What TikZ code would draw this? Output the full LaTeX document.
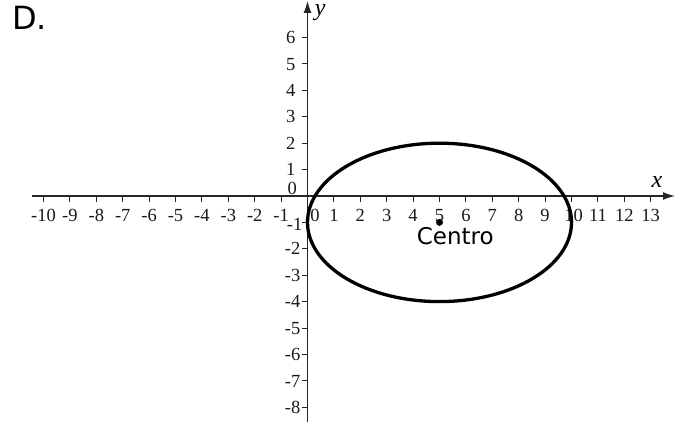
\documentclass[tikz,border=0pt]{standalone}
\usepackage{fontspec}
\setmainfont{Liberation Serif}
\newfontfamily\labelsans{DejaVu Sans}
\usetikzlibrary{arrows.meta}
\begin{document}
\begin{tikzpicture}[x=26.4pt,y=26.4pt,
  axisline/.style={line width=1.3pt, black!85},
  tickmark/.style={line width=1pt, black!85},
  ticklbl/.style={font=\fontsize{18.5}{18.5}\selectfont, inner sep=0pt, text=black!90},
  axlbl/.style={font=\fontsize{24}{24}\selectfont\itshape, inner sep=0pt},
  curve/.style={line width=3.3pt, black},
  tipstyle/.style={-{Latex[length=12pt,width=8pt]}}]
\useasboundingbox (-11.648,-8.788) rectangle (14.223,7.424);
% axes
\coordinate (xl) at (-10.45,0);
\coordinate (xr) at (13.92,0);
\coordinate (yb) at (0,-8.55);
\coordinate (yt) at (0,7.39);
\draw[axisline,tipstyle] (xl) -- (xr);
\draw[axisline,tipstyle] (yb) -- (yt);
% x ticks and labels
\foreach \i in {-10,...,-1,1,2,...,13}{
  \coordinate (xt\i) at (\i,0);
  \draw[tickmark] (xt\i) -- ++(0,-6pt);
}
\foreach \i in {-10,...,-1,1,2,...,9,11,12,13}{
  \node[ticklbl, anchor=base] (xn\i) at ([yshift=-25.7pt]xt\i) {\i};
}
\node[ticklbl, anchor=base] (xn10) at ([xshift=2pt,yshift=-25.7pt]xt10) {10};
\coordinate (o) at (0,0);
\node[ticklbl, anchor=base] (xn0) at ([xshift=7.5pt,yshift=-25.7pt]o) {0};
% y ticks and labels
\foreach \j in {-8,...,-1,1,2,...,6}{
  \coordinate (yk\j) at (0,\j);
  \draw[tickmark] (yk\j) -- ++(-6pt,0);
}
\foreach \j in {1,...,6}{
  \node[ticklbl, anchor=base east] (yn\j) at ([xshift=-12pt,yshift=-6.2pt]yk\j) {\j};
}
\foreach \j in {-8,...,-2}{
  \node[ticklbl, anchor=base east] (yn\j) at ([xshift=-7pt,yshift=-6.2pt]yk\j) {\j};
}
\node[ticklbl, anchor=base east] (ynm1) at ([xshift=-5pt,yshift=-8pt]yk-1) {-1};
\node[ticklbl, anchor=base east] (yn0) at ([xshift=-10.5pt,yshift=1pt]o) {0};
% axis names
\node[axlbl, anchor=base] (xname) at (13.24,0.303) {x};
\node[axlbl, anchor=base west] (yname) at (0.27,6.82) {y};
% ellipse
\node[circle, fill=black, inner sep=0pt, minimum size=7pt] (c) at (5,-1) {};
\draw[curve] (c.center) ellipse [x radius=5, y radius=3];
\node[font=\labelsans\fontsize{23}{23}\selectfont, anchor=base west, inner sep=0pt] (centro) at (4.136,-1.856) {Centro};
% heading
\node[font=\labelsans\fontsize{32}{32}\selectfont, anchor=base west, inner sep=0pt] (head) at (-11.19,6.288) {D.};
\end{tikzpicture}
\end{document}
